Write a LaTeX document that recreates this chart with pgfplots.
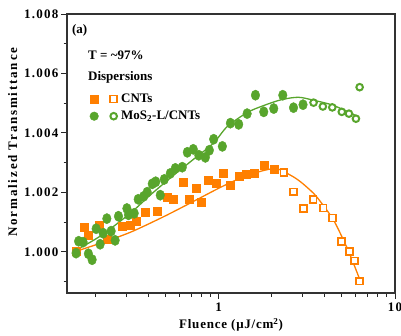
\documentclass[border=0pt]{standalone}
\usepackage{pgfplots}
\pgfplotsset{compat=1.18}
\usepackage{pgfplotstable}
\usepackage{fontspec}
\setmainfont{Liberation Serif}
\newfontfamily\tickfont{Liberation Serif}[LetterSpace=10]
\newfontfamily\labfont{Liberation Serif}[LetterSpace=6]
\newfontfamily\ylabfont{Liberation Serif}[LetterSpace=14]
\definecolor{cntor}{RGB}{255,127,0}
\definecolor{mosg}{RGB}{88,165,44}

\pgfplotstableread{
x y
0.1554 1.00002
0.1725 1.00083
0.1818 1.00056
0.2101 1.00090
0.2347 1.00044
0.2836 1.00088
0.3170 1.00090
0.3428 1.00103
0.3833 1.00133
0.4455 1.00138
0.5090 1.00185
0.5529 1.00179
0.6277 1.00234
0.6789 1.00178
0.7421 1.00214
0.7975 1.00166
0.8739 1.00241
0.9640 1.00230
1.0565 1.00266
1.1654 1.00223
1.2991 1.00256
1.4275 1.00260
1.585 1.00266
1.818 1.00291
2.053 1.00277
}\cntfilled

\pgfplotstableread{
x y
2.34 1.00267
2.66 1.00202
3.02 1.00146
3.44 1.00177
3.92 1.00148
4.43 1.00114
4.98 1.00035
5.51 1.00002
5.90 0.99970
6.28 0.99902
}\cntopen

\pgfplotstableread{
x y
0.1475 0.99998
0.2127 1.00029
0.3150 1.00066
0.4664 1.00113
0.6060 1.00147
0.7870 1.00182
1.0225 1.00217
1.328 1.00248
1.726 1.00271
2.127 1.00280
2.555 1.00258
2.911 1.00236
3.453 1.00197
3.882 1.00160
4.484 1.00107
5.111 1.00039
5.602 0.99986
6.26 0.99913
}\cntfit

\pgfplotstableread{
x y
0.1554 0.99996
0.1606 1.00036
0.1703 1.00033
0.1825 0.99994
0.1916 0.99974
0.2019 1.00078
0.2127 1.00026
0.2213 1.00063
0.2322 1.00112
0.2456 1.00070
0.2588 1.00039
0.2703 1.00120
0.3017 1.00146
0.3081 1.00125
0.3319 1.00130
0.3497 1.00177
0.3758 1.00187
0.3934 1.00201
0.4201 1.00229
0.4396 1.00236
0.4664 1.00191
0.4915 1.00244
0.5316 1.00264
0.5675 1.00281
0.6219 1.00285
0.6641 1.00335
0.7183 1.00345
0.7717 1.00325
0.8403 1.00318
0.8856 1.00342
0.9367 1.00379
1.0496 1.00355
1.1654 1.00433
1.2991 1.00429
1.4502 1.00465
1.6167 1.00527
1.8017 1.00471
2.0530 1.00482
2.3105 1.00527
2.6573 1.00485
3.0087 1.00495
}\mosfilled

\pgfplotstableread{
x y
3.452 1.00502
3.899 1.00489
4.410 1.00486
4.992 1.00471
5.480 1.00465
6.004 1.00448
6.301 1.00554
}\mosopen

\pgfplotstableread{
x y
0.1475 0.99999
0.2127 1.00053
0.3150 1.00130
0.4087 1.00191
0.5378 1.00251
0.7074 1.00308
0.9307 1.00365
1.1206 1.00422
1.456 1.00469
1.796 1.00492
2.272 1.00512
2.834 1.00520
3.452 1.00510
4.46 1.00493
5.98 1.00459
}\mosfit

\begin{document}
\begin{tikzpicture}
\begin{axis}[
  scale only axis, width=328pt, height=279pt,
  xmode=log, xmin=0.138, xmax=10,
  ymin=0.99862, ymax=1.008,
  xtick={1,10}, xticklabels={1,10},
  minor xtick={0.2,0.3,0.4,0.5,0.6,0.7,0.8,0.9,2,3,4,5,6,7,8,9},
  ytick={1.000,1.002,1.004,1.006,1.008},
  yticklabels={1.000,1.002,1.004,1.006,1.008},
  minor ytick={0.999,1.001,1.003,1.005,1.007},
  tick align=outside, xtick pos=bottom, ytick pos=left,
  major tick length=6pt, minor tick length=3.5pt,
  every tick/.style={line width=1pt, black!85},
  axis line style={line width=1.4pt, black!80},
  ticklabel style={font=\tickfont\bfseries\fontsize{13}{15}\selectfont},
  yticklabel style={xshift=1pt},
  xlabel={Fluence (μJ/cm\textsuperscript{2})},
  ylabel={Normalized Transmittance},
  xlabel style={font=\labfont\bfseries\fontsize{13}{15}\selectfont},
  ylabel style={font=\ylabfont\bfseries\fontsize{13}{15}\selectfont, at={(ticklabel cs:0.541)}},
  legend style={at={(rel axis cs:0.067,0.721)}, anchor=north west, draw=none, fill=none,
    font=\bfseries\fontsize{13}{15}\selectfont, row sep=3pt, inner sep=0pt,
    /tikz/every even column/.append style={column sep=0pt}},
  legend cell align=left,
  clip=false,
]
\addlegendimage{legend image code/.code={
  \path[draw=none, fill=none] (-1pt,-4.5pt) rectangle (29pt,4.5pt);
  \draw[only marks, mark=square*, mark size=4pt, cntor, fill=cntor] plot coordinates {(4pt,0pt)};
  \draw[only marks, mark=square*, mark size=3.4pt, line width=1.6pt, draw=cntor, fill=white] plot coordinates {(23.5pt,0pt)};
}}
\addlegendentry{CNTs}
\addlegendimage{legend image code/.code={
  \path[draw=none, fill=none] (-1pt,-4.5pt) rectangle (29pt,4.5pt);
  \draw[only marks, mark=*, mark size=4.3pt, mosg, fill=mosg] plot coordinates {(4pt,0pt)};
  \draw[only marks, mark=*, mark size=3.3pt, line width=2pt, draw=mosg, fill=white] plot coordinates {(23.5pt,0pt)};
}}
\addlegendentry{MoS\textsubscript{2}-L/CNTs}

\addplot[cntor, line width=1.3pt, smooth, forget plot] table {\cntfit};
\addplot[only marks, mark=square*, mark size=4pt, color=cntor, forget plot] table {\cntfilled};
\addplot[only marks, mark=square*, mark size=3.4pt, mark options={draw=cntor, fill=white, line width=1.6pt}, forget plot] table {\cntopen};
\addplot[mosg, line width=1.3pt, smooth, forget plot] table {\mosfit};
\addplot[only marks, mark=*, mark size=4.3pt, mark options={yscale=1.2}, color=mosg, forget plot] table {\mosfilled};
\addplot[only marks, mark=*, mark size=3.3pt, mark options={draw=mosg, fill=white, line width=2pt}, forget plot] table {\mosopen};

\node[anchor=west, inner sep=0pt, font=\bfseries\fontsize{13}{15}\selectfont] at (rel axis cs:0.015,0.943) {(a)};
\node[anchor=west, inner sep=0pt, font=\bfseries\fontsize{13}{15}\selectfont] at (rel axis cs:0.064,0.853) {T = \textasciitilde97\%};
\node[anchor=west, inner sep=0pt, font=\bfseries\fontsize{13}{15}\selectfont] at (rel axis cs:0.064,0.774) {Dispersions};
\end{axis}
\pgfresetboundingbox
\path[use as bounding box] ([shift={(-67pt,-42pt)}]current axis.south west) rectangle ([shift={(6pt,14pt)}]current axis.north east);
\end{tikzpicture}
\end{document}
